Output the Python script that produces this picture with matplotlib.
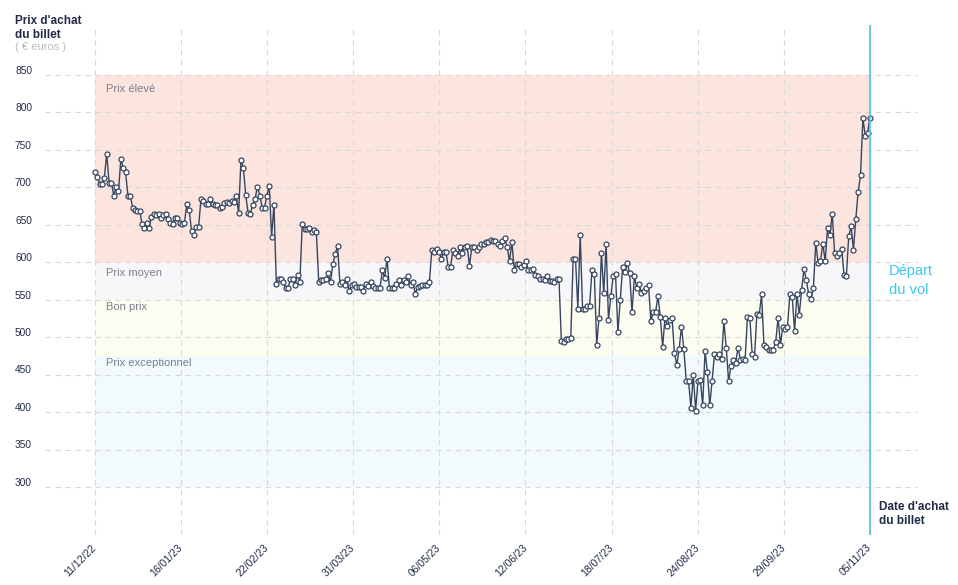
import numpy as np
import pandas as pd
import matplotlib
matplotlib.use('Agg')
import matplotlib.pyplot as plt
import matplotlib.transforms as mtransforms

# prix relevés chaque jour (lecture du graphique)
prices = [
    720, 714, 705, 704, 713, 745, 706, 706, 689, 701,
    695, 738, 726, 720, 689, 689, 673, 670, 669, 669,
    651, 646, 652, 646, 661, 665, 663, 665, 659,
    663, 665, 658, 653, 651, 659, 659, 653, 651, 653,
    678, 670, 642, 637, 647, 647, 684, 682, 678, 678,
    684, 678, 677, 677, 673, 674, 679, 680, 679, 682,
    681, 689, 666, 737, 726, 690, 666, 665, 677, 685,
    701, 689, 673, 673, 689, 702, 634,
    677, 571, 578, 578, 573, 565, 566, 578, 577, 570,
    583, 574, 651, 644, 645, 646, 641, 643, 640, 574,
    576, 576, 577, 585, 574, 597, 611, 622, 571, 574,
    570, 577, 561, 570, 571, 567, 567, 567, 562, 571,
    568, 573, 568, 566, 565, 565, 589, 579, 605, 565,
    566, 566, 571, 576, 570, 576, 573, 581, 570, 573,
    558, 567, 568, 570, 570, 570, 574, 616, 614, 618,
    614, 605, 614, 614, 593,
    594, 617, 613, 608, 621, 613, 621, 622, 595, 621,
    621, 617, 621, 624, 624, 627, 627, 630, 629, 629,
    625, 622, 629, 632, 621, 601, 627, 590, 598, 597,
    594, 596, 601, 589, 589, 591, 583, 581, 578, 577,
    576, 582, 575, 575, 574, 577, 577,
    495, 494, 498, 498, 499, 605, 605, 538, 636, 538,
    538, 542, 542, 590, 584, 490, 526, 613, 559, 625,
    523, 555, 581, 584, 507, 549, 593, 587, 599, 585,
    533, 581, 566, 571, 559, 561, 566, 570, 521, 534,
    533, 555, 527, 487, 526, 515, 523, 526, 479, 463,
    484, 514, 484, 442, 441, 406, 450, 402, 442,
    443, 409, 481, 454, 409, 442, 477, 473, 478, 471,
    521, 486, 441, 462, 470, 466, 486, 470, 471, 470,
    527, 526, 478, 474, 531, 530, 557,
    490, 487, 483, 483, 483, 494, 526, 490, 514, 511,
    514, 557, 554, 508, 557, 530, 563, 591, 576, 557,
    551, 566, 626, 599, 601, 625, 601, 646, 636, 665,
    612, 608, 613, 618, 583, 582, 635, 648, 617, 658,
    694, 716, 792, 769, 773, 793,
]
start_date = '2022-12-11'
end_date = '2023-11-05'

tick_labels = ['11/12/22', '16/01/23', '22/02/23', '31/03/23', '06/05/23',
               '12/06/23', '18/07/23', '24/08/23', '29/09/23', '05/11/23']
y_ticks = [850, 800, 750, 700, 650, 600, 550, 500, 450, 400, 350, 300]

band_edges = [300, 475, 550, 600, 850]
band_colors = ['#f2fafd', '#fcfcf1', '#f7f7f9', '#fde5df']
band_names = ['Prix exceptionnel', 'Bon prix', 'Prix moyen', 'Prix élevé']

NAVY = '#1f2b47'
LINE = '#36455e'
GREY = '#7a808c'
CYAN = '#3dc6ef'

plt.rcParams['font.family'] = ['Liberation Sans', 'DejaVu Sans']

W, H = 958, 585
fig = plt.figure(figsize=(W / 100, H / 100), dpi=100)
ax = fig.add_axes([45 / W, 50 / H, 873 / W, 510 / H])

dates = pd.date_range(start_date, end_date, periods=len(prices))
t0 = pd.Timestamp(start_date)
t1 = pd.Timestamp(end_date)
span = (t1 - t0).days

# bandes de prix
for lo, hi, c in zip(band_edges[:-1], band_edges[1:], band_colors):
    ax.fill_between([t0, t1], lo, hi, color=c, lw=0, zorder=0)

ax.plot(dates, prices, color=LINE, lw=1.0, marker='o', ms=3.6,
        mfc='white', mec=LINE, mew=0.9, zorder=3)

ax.axvline(t1, color='#52c3e6', lw=1.2, zorder=4)

ax.set_xlim(t0 - pd.Timedelta(days=21.2), t0 + pd.Timedelta(days=349.4))
ax.set_ylim(235.9, 916.7)

xt = [t0 + pd.Timedelta(days=span * i / 9) for i in range(10)]
ax.set_xticks(xt)
ax.set_xticklabels(tick_labels, rotation=45, ha='right', va='center',
                   rotation_mode='anchor', fontsize=7.5, color=NAVY)
ax.tick_params(axis='x', length=0, pad=8)
ax.set_yticks(y_ticks)
ax.tick_params(axis='y', length=0, labelleft=False)
ax.grid(True, color='#d9d9d9', lw=0.8, ls=(0, (5, 4)))
for s in ax.spines.values():
    s.set_visible(False)
ax.patch.set_alpha(0)

# étiquettes de l'axe y
trans = mtransforms.blended_transform_factory(fig.transFigure, ax.transData)
for v in y_ticks:
    ax.text(15 / W, v + 1.5, str(v), transform=trans, fontsize=7.3,
            color=NAVY, ha='left', va='baseline')


def ftext(x, y, s, **kw):
    fig.text(x / W, 1 - y / H, s, va='baseline', ha='left', **kw)


ftext(15, 23.5, "Prix d'achat", fontsize=8.5, fontweight='bold', color=NAVY)
ftext(15, 37.5, 'du billet', fontsize=8.5, fontweight='bold', color=NAVY)
ftext(15, 49.5, '( € euros )', fontsize=8, color='#b8bcc4')

ftext(879, 510, "Date d'achat", fontsize=8.5, fontweight='bold', color=NAVY)
ftext(879, 524, 'du billet', fontsize=8.5, fontweight='bold', color=NAVY)

ftext(889, 274.5, 'Départ', fontsize=10.5, color=CYAN)
ftext(889, 294.5, 'du vol', fontsize=10.5, color=CYAN)

for name, yb in zip(band_names, [366.5, 310, 276.5, 91.5]):
    ftext(105.5, yb, name, fontsize=8, color=GREY)

fig.savefig('out.png', dpi=100)
